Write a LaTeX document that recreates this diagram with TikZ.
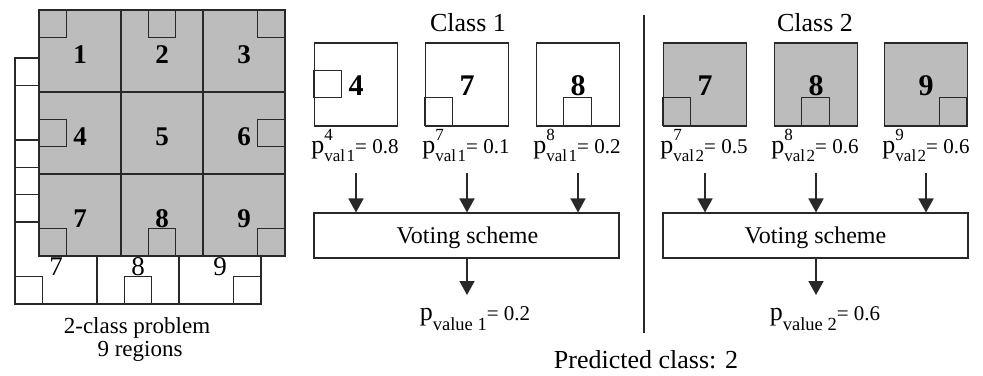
\documentclass[tikz,border=0pt]{standalone}
\usepackage{fontspec}
\setmainfont{Liberation Serif}
\usetikzlibrary{arrows.meta}
\definecolor{cellgray}{RGB}{188,188,188}
\definecolor{ink}{RGB}{40,40,40}

% font sizes used in the formulas
\newcommand{\psz}{\fontsize{26}{30}\selectfont}
\newcommand{\idxsz}{\fontsize{17}{17}\selectfont}
\newcommand{\vidxsz}{\fontsize{18.5}{18}\selectfont}
\newcommand{\eqsz}{\fontsize{21}{24}\selectfont}
% p^{sup}_{val k} = v
\newcommand{\pval}[3]{{\psz p}\rlap{\raisebox{13pt}{\idxsz #1}}\raisebox{-8pt}{\idxsz val\hspace{1.5pt}#2}{\eqsz= #3}}
% p_{value k} = v
\newcommand{\pvalue}[2]{{\psz p}\raisebox{-10pt}{\vidxsz value #1}{\eqsz= #2}}

\tikzset{
  cell/.style={draw=ink, line width=1.1pt},
  num/.style={font=\fontsize{27}{30}\selectfont\bfseries, anchor=base, inner sep=0pt},
  bignum/.style={font=\fontsize{30}{32}\selectfont\bfseries, anchor=base, inner sep=0pt},
  backnum/.style={font=\fontsize{27}{30}\selectfont, anchor=base, inner sep=0pt},
  title/.style={font=\fontsize{26}{30}\selectfont, anchor=base, inner sep=0pt},
  txt/.style={font=\fontsize{24}{28}\selectfont, anchor=base, inner sep=0pt},
  captxt/.style={font=\fontsize{23}{26}\selectfont, anchor=base, inner sep=0pt},
  ptxt/.style={anchor=base, inner sep=0pt},
  regbox/.style={cell, minimum size=83pt, inner sep=0pt},
  votebox/.style={cell, minimum width=305pt, minimum height=45pt, inner sep=0pt},
  flow/.style={draw=ink, line width=1.8pt, -{Triangle[width=15pt,length=14pt]}},
}

\begin{document}
\begin{tikzpicture}[x=1pt, y=-1pt]
\useasboundingbox (0,0) rectangle (983,375);

% ---- back grid (second class image), white
\foreach \r in {0,1,2}{
  \foreach \c in {0,1,2}{
    \pgfmathtruncatemacro\k{3*\r+\c+1}
    \draw[cell, fill=white] (15+82*\c, 58+82*\r) rectangle +(82,82);
    \ifnum\k=5\relax\else
      \draw[cell] (15+82*\c+27.33*\c, 58+82*\r+27.33*\r) rectangle +(27.33,27.33);
    \fi
    \node[backnum] (back\k) at (15+82*\c+41, 58+82*\r+53) {\k};
  }
}

% ---- front grid (first class image), gray
\foreach \r in {0,1,2}{
  \foreach \c in {0,1,2}{
    \pgfmathtruncatemacro\k{3*\r+\c+1}
    \draw[cell, fill=cellgray] (39+82*\c, 10+82*\r) rectangle +(82,82);
    \ifnum\k=5\relax\else
      \draw[cell] (39+82*\c+27.33*\c, 10+82*\r+27.33*\r) rectangle +(27.33,27.33);
    \fi
    \node[num] (front\k) at (39+82*\c+41, 10+82*\r+53) {\k};
  }
}

\node[captxt] (cap1) at (137,333) {2-class problem};
\node[captxt] (cap2) at (140,356) {9 regions};

% ---- class titles and separator
\node[title] (class1) at (468,31) {Class 1};
\node[title] (class2) at (815,31) {Class 2};
\coordinate (sepTop) at (644,15);
\coordinate (sepBot) at (644,333);
\draw[ink, line width=2pt] (sepTop) -- (sepBot);

% ---- region boxes: name / centre x / fill / square column / square row
\foreach \nm/\x/\fc/\sc/\sr/\lab in {
    a/356/white/0/1/4, b/467/white/0/2/7, c/578/white/1/2/8,
    d/705/cellgray/0/2/7, e/816/cellgray/1/2/8, f/926/cellgray/2/2/9}{
  \node[regbox, fill=\fc] (box\nm) at (\x,84.5) {};
  \draw[cell] ([xshift=27.67*\sc pt, yshift=-27.67*\sr pt]box\nm.north west)
      rectangle +(27.67,27.67);
  \node[bignum] (num\nm) at (\x,95) {\lab};
}

% ---- per-region p-values
\node[ptxt] (pa) at (355,153) {\pval{4}{1}{0.8}};
\node[ptxt] (pb) at (466,153) {\pval{7}{1}{0.1}};
\node[ptxt] (pc) at (577,153) {\pval{8}{1}{0.2}};
\node[ptxt] (pd) at (704,153) {\pval{7}{2}{0.5}};
\node[ptxt] (pe) at (815,153) {\pval{8}{2}{0.6}};
\node[ptxt] (pf) at (926,153) {\pval{9}{2}{0.6}};

% ---- voting schemes
\node[votebox] (vote1) at (466.5,235.5) {};
\node[votebox] (vote2) at (815.5,235.5) {};
\node[txt] (vtxt1) at (467.5,243) {Voting scheme};
\node[txt] (vtxt2) at (815.5,243) {Voting scheme};

\foreach \nm/\x/\v in {a/356/vote1, b/467/vote1, c/578/vote1,
                       d/705/vote2, e/816/vote2, f/926/vote2}{
  \coordinate (in\nm) at (\x,173);
  \draw[flow] (in\nm) -- (in\nm |- \v.north);
}

\coordinate (out1) at (467,295);
\coordinate (out2) at (816,295);
\draw[flow] (vote1.south -| out1) -- (out1);
\draw[flow] (vote2.south -| out2) -- (out2);

\node[ptxt] (pv1) at (475,320) {\pvalue{1}{0.2}};
\node[ptxt] (pv2) at (825,320) {\pvalue{2}{0.6}};

\node[title] (pred) at (646,368) {Predicted class: 2};
\end{tikzpicture}
\end{document}
